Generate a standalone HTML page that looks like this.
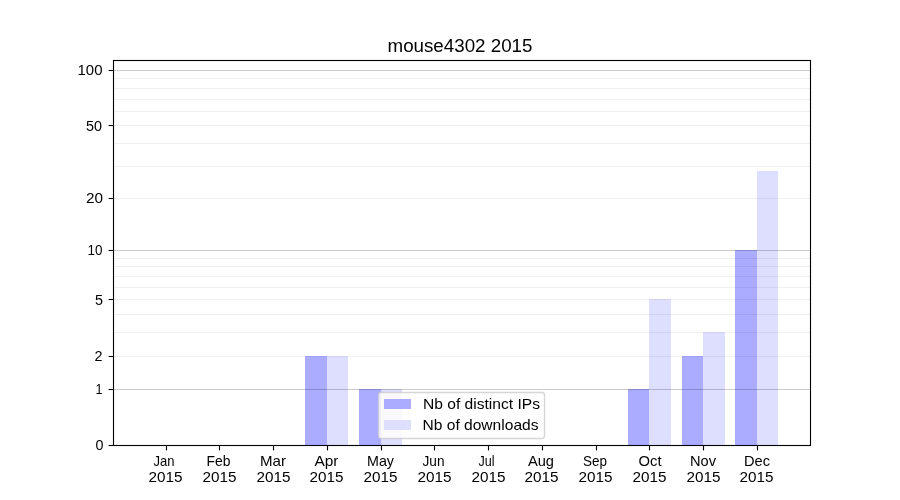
<!DOCTYPE html>
<html><head><meta charset="utf-8"><style>
html,body{margin:0;padding:0;background:#fff;width:900px;height:500px;overflow:hidden}
svg{display:block}
text{font-family:"Liberation Sans",sans-serif;fill:#000}
.txt{position:absolute;left:0;top:0;will-change:transform}
</style></head><body>
<svg width="900" height="500" viewBox="0 0 900 500">
<rect x="0" y="0" width="900" height="500" fill="#fff"/>

<g shape-rendering="crispEdges">
<rect x="305" y="356" width="22" height="89" fill="#ababff"/>
<rect x="327" y="356" width="21" height="89" fill="#dedeff"/>
<rect x="359" y="389" width="22" height="56" fill="#ababff"/>
<rect x="381" y="389" width="21" height="56" fill="#dedeff"/>
<rect x="628" y="389" width="21" height="56" fill="#ababff"/>
<rect x="649" y="299" width="22" height="146" fill="#dedeff"/>
<rect x="682" y="356" width="21" height="89" fill="#ababff"/>
<rect x="703" y="332" width="22" height="113" fill="#dedeff"/>
<rect x="735" y="250" width="22" height="195" fill="#ababff"/>
<rect x="757" y="171" width="21" height="274" fill="#dedeff"/>
</g>
<g stroke="#000" stroke-width="1.11">
<line x1="112.5" x2="810" y1="70.5" y2="70.5" stroke-opacity="0.2"/>
<line x1="112.5" x2="810" y1="250.5" y2="250.5" stroke-opacity="0.2"/>
<line x1="112.5" x2="810" y1="389.5" y2="389.5" stroke-opacity="0.2"/>
<line x1="112.5" x2="810" y1="78.5" y2="78.5" stroke-opacity="0.06"/>
<line x1="112.5" x2="810" y1="88.5" y2="88.5" stroke-opacity="0.06"/>
<line x1="112.5" x2="810" y1="99.5" y2="99.5" stroke-opacity="0.06"/>
<line x1="112.5" x2="810" y1="111.5" y2="111.5" stroke-opacity="0.06"/>
<line x1="112.5" x2="810" y1="125.5" y2="125.5" stroke-opacity="0.06"/>
<line x1="112.5" x2="810" y1="143.5" y2="143.5" stroke-opacity="0.06"/>
<line x1="112.5" x2="810" y1="166.5" y2="166.5" stroke-opacity="0.06"/>
<line x1="112.5" x2="810" y1="198.5" y2="198.5" stroke-opacity="0.06"/>
<line x1="112.5" x2="810" y1="258.5" y2="258.5" stroke-opacity="0.06"/>
<line x1="112.5" x2="810" y1="266.5" y2="266.5" stroke-opacity="0.06"/>
<line x1="112.5" x2="810" y1="276.5" y2="276.5" stroke-opacity="0.06"/>
<line x1="112.5" x2="810" y1="287.5" y2="287.5" stroke-opacity="0.06"/>
<line x1="112.5" x2="810" y1="299.5" y2="299.5" stroke-opacity="0.06"/>
<line x1="112.5" x2="810" y1="314.5" y2="314.5" stroke-opacity="0.06"/>
<line x1="112.5" x2="810" y1="332.5" y2="332.5" stroke-opacity="0.06"/>
<line x1="112.5" x2="810" y1="356.5" y2="356.5" stroke-opacity="0.06"/>
</g>
<g stroke="#000" stroke-width="1.11" fill="none" stroke-linecap="butt">
<rect x="113.5" y="60.5" width="697" height="385"/>
<line x1="108.6" x2="113.5" y1="70.5" y2="70.5"/>
<line x1="108.6" x2="113.5" y1="125.5" y2="125.5"/>
<line x1="108.6" x2="113.5" y1="198.5" y2="198.5"/>
<line x1="108.6" x2="113.5" y1="250.5" y2="250.5"/>
<line x1="108.6" x2="113.5" y1="299.5" y2="299.5"/>
<line x1="108.6" x2="113.5" y1="356.5" y2="356.5"/>
<line x1="108.6" x2="113.5" y1="389.5" y2="389.5"/>
<line x1="108.6" x2="113.5" y1="445.5" y2="445.5"/>
<line x1="166.5" x2="166.5" y1="445.5" y2="450.4"/>
<line x1="219.5" x2="219.5" y1="445.5" y2="450.4"/>
<line x1="273.5" x2="273.5" y1="445.5" y2="450.4"/>
<line x1="327.5" x2="327.5" y1="445.5" y2="450.4"/>
<line x1="381.5" x2="381.5" y1="445.5" y2="450.4"/>
<line x1="434.5" x2="434.5" y1="445.5" y2="450.4"/>
<line x1="488.5" x2="488.5" y1="445.5" y2="450.4"/>
<line x1="542.5" x2="542.5" y1="445.5" y2="450.4"/>
<line x1="596.5" x2="596.5" y1="445.5" y2="450.4"/>
<line x1="649.5" x2="649.5" y1="445.5" y2="450.4"/>
<line x1="703.5" x2="703.5" y1="445.5" y2="450.4"/>
<line x1="757.5" x2="757.5" y1="445.5" y2="450.4"/>
</g>
<rect x="378.5" y="392.5" width="166" height="46" rx="2.78" ry="2.78" fill="#fff" fill-opacity="0.8" stroke="#ccc" stroke-opacity="0.8" stroke-width="1.39"/>
<rect x="384" y="399" width="27" height="10" fill="#ababff" shape-rendering="crispEdges"/>
<rect x="384" y="420" width="27" height="10" fill="#dedeff" shape-rendering="crispEdges"/>
</svg><svg class="txt" width="900" height="500" viewBox="0 0 900 500"><g>
<text x="460.0" y="51.7" font-size="17.6" text-anchor="middle" textLength="145.0" lengthAdjust="spacingAndGlyphs">mouse4302 2015</text>
<text x="102.5" y="74.5" font-size="14.1" text-anchor="end" textLength="25.0" lengthAdjust="spacingAndGlyphs">100</text>
<text x="102.0" y="130.5" font-size="14.1" text-anchor="end" textLength="16.0" lengthAdjust="spacingAndGlyphs">50</text>
<text x="103.0" y="202.5" font-size="14.1" text-anchor="end" textLength="17.0" lengthAdjust="spacingAndGlyphs">20</text>
<text x="102.5" y="254.5" font-size="14.1" text-anchor="end" textLength="15.0" lengthAdjust="spacingAndGlyphs">10</text>
<text x="103.0" y="304.5" font-size="14.1" text-anchor="end" textLength="8.0" lengthAdjust="spacingAndGlyphs">5</text>
<text x="102.5" y="360.5" font-size="14.1" text-anchor="end" textLength="8.0" lengthAdjust="spacingAndGlyphs">2</text>
<text x="102.5" y="393.5" font-size="14.1" text-anchor="end" textLength="7.0" lengthAdjust="spacingAndGlyphs">1</text>
<text x="103.5" y="449.5" font-size="14.1" text-anchor="end" textLength="8.0" lengthAdjust="spacingAndGlyphs">0</text>
<text x="164.0" y="466.0" font-size="14.1" text-anchor="middle" textLength="21.0" lengthAdjust="spacingAndGlyphs">Jan</text>
<text x="165.5" y="482.0" font-size="14.1" text-anchor="middle" textLength="34.0" lengthAdjust="spacingAndGlyphs">2015</text>
<text x="218.5" y="466.0" font-size="14.1" text-anchor="middle" textLength="24.0" lengthAdjust="spacingAndGlyphs">Feb</text>
<text x="219.5" y="482.0" font-size="14.1" text-anchor="middle" textLength="34.0" lengthAdjust="spacingAndGlyphs">2015</text>
<text x="273.0" y="466.0" font-size="14.1" text-anchor="middle" textLength="26.0" lengthAdjust="spacingAndGlyphs">Mar</text>
<text x="273.5" y="482.0" font-size="14.1" text-anchor="middle" textLength="34.0" lengthAdjust="spacingAndGlyphs">2015</text>
<text x="326.5" y="466.0" font-size="14.1" text-anchor="middle" textLength="24.0" lengthAdjust="spacingAndGlyphs">Apr</text>
<text x="326.5" y="482.0" font-size="14.1" text-anchor="middle" textLength="34.0" lengthAdjust="spacingAndGlyphs">2015</text>
<text x="380.5" y="466.0" font-size="14.1" text-anchor="middle" textLength="27.0" lengthAdjust="spacingAndGlyphs">May</text>
<text x="380.5" y="482.0" font-size="14.1" text-anchor="middle" textLength="34.0" lengthAdjust="spacingAndGlyphs">2015</text>
<text x="433.5" y="466.0" font-size="14.1" text-anchor="middle" textLength="22.0" lengthAdjust="spacingAndGlyphs">Jun</text>
<text x="434.5" y="482.0" font-size="14.1" text-anchor="middle" textLength="34.0" lengthAdjust="spacingAndGlyphs">2015</text>
<text x="486.5" y="466.0" font-size="14.1" text-anchor="middle" textLength="16.0" lengthAdjust="spacingAndGlyphs">Jul</text>
<text x="488.5" y="482.0" font-size="14.1" text-anchor="middle" textLength="34.0" lengthAdjust="spacingAndGlyphs">2015</text>
<text x="541.0" y="466.0" font-size="14.1" text-anchor="middle" textLength="26.0" lengthAdjust="spacingAndGlyphs">Aug</text>
<text x="541.5" y="482.0" font-size="14.1" text-anchor="middle" textLength="34.0" lengthAdjust="spacingAndGlyphs">2015</text>
<text x="595.0" y="466.0" font-size="14.1" text-anchor="middle" textLength="24.0" lengthAdjust="spacingAndGlyphs">Sep</text>
<text x="595.5" y="482.0" font-size="14.1" text-anchor="middle" textLength="34.0" lengthAdjust="spacingAndGlyphs">2015</text>
<text x="650.0" y="466.0" font-size="14.1" text-anchor="middle" textLength="23.0" lengthAdjust="spacingAndGlyphs">Oct</text>
<text x="649.5" y="482.0" font-size="14.1" text-anchor="middle" textLength="34.0" lengthAdjust="spacingAndGlyphs">2015</text>
<text x="703.0" y="466.0" font-size="14.1" text-anchor="middle" textLength="26.0" lengthAdjust="spacingAndGlyphs">Nov</text>
<text x="703.5" y="482.0" font-size="14.1" text-anchor="middle" textLength="34.0" lengthAdjust="spacingAndGlyphs">2015</text>
<text x="757.0" y="466.0" font-size="14.1" text-anchor="middle" textLength="26.0" lengthAdjust="spacingAndGlyphs">Dec</text>
<text x="756.5" y="482.0" font-size="14.1" text-anchor="middle" textLength="34.0" lengthAdjust="spacingAndGlyphs">2015</text>
<text x="423.0" y="409.0" font-size="14.1" text-anchor="start" textLength="117.0" lengthAdjust="spacingAndGlyphs">Nb of distinct IPs</text>
<text x="422.5" y="430.0" font-size="14.1" text-anchor="start" textLength="116.0" lengthAdjust="spacingAndGlyphs">Nb of downloads</text>
</g>
</svg></body></html>
